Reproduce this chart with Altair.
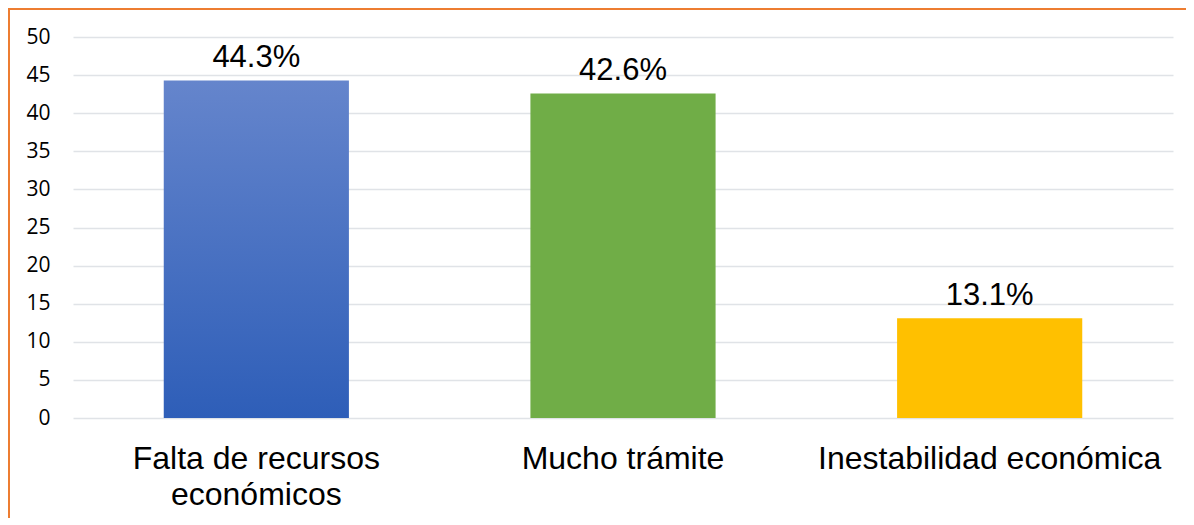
import altair as alt
import pandas as pd

categories = ["Falta de recursos económicos", "Mucho trámite", "Inestabilidad económica"]
values = [44.3, 42.6, 13.1]
colors = ["#4472C4", "#70AD47", "#FFC000"]
y_ticks = [0, 5, 10, 15, 20, 25, 30, 35, 40, 45, 50]

df = pd.DataFrame({"cat": categories, "val": values, "color": colors})
df["label"] = [f"{v:.1f}%" for v in values]

x_enc = alt.X(
    "cat:N",
    sort=categories,
    title=None,
    scale=alt.Scale(paddingInner=0.495, paddingOuter=0.2475),
    axis=alt.Axis(
        labelAngle=0,
        labelFont="Liberation Sans",
        labelFontSize=32,
        labelColor="#000000",
        labelPadding=25,
        labelLineHeight=36,
        labelLimit=500,
        ticks=False,
        tickSize=0,
        domain=False,
        grid=False,
        labelExpr="datum.value == 'Falta de recursos económicos' ? ['Falta de recursos', 'económicos'] : datum.label",
    ),
)
y_enc = alt.Y(
    "val:Q",
    title=None,
    scale=alt.Scale(domain=[0, 50], nice=False),
    axis=alt.Axis(
        values=y_ticks,
        labelFont="Open Sans",
        labelFontSize=21,
        labelColor="#000000",
        labelPadding=23,
        labelOverlap=False,
        ticks=False,
        tickSize=0,
        domain=False,
        grid=True,
        gridColor="#E0E3E7",
        gridWidth=1.6,
    ),
)

base = alt.Chart(df)

blue = base.transform_filter(alt.datum.cat == categories[0]).mark_bar(
    color=alt.Gradient(
        gradient="linear",
        stops=[alt.GradientStop(color="#6585CC", offset=0), alt.GradientStop(color="#2E5EB8", offset=1)],
        x1=0, x2=0, y1=0, y2=1,
    )
).encode(x=x_enc, y=y_enc)

others = base.transform_filter(alt.datum.cat != categories[0]).mark_bar().encode(
    x=x_enc, y=y_enc, color=alt.Color("color:N", scale=None)
)

labels = base.mark_text(
    font="Liberation Sans", fontSize=31, color="#000000", baseline="alphabetic", dy=-13
).encode(x=x_enc, y=y_enc, text="label:N")

border_top = base.mark_rule(color="#ED7D31", strokeWidth=2).encode(
    x=alt.value(-65), x2=alt.value(1200), y=alt.value(-28)
)
border_left = base.mark_rule(color="#ED7D31", strokeWidth=2).encode(
    x=alt.value(-64), y=alt.value(-29), y2=alt.value(600)
)

chart = alt.layer(blue, others, labels, border_top, border_left).properties(
    width=1100,
    height=381,
    autosize=alt.AutoSizeParams(type="none"),
    padding={"left": 65, "top": 29, "right": 13, "bottom": 100},
    background="#FFFFFF",
).configure_view(stroke=None)

chart.save("out.html", embed_options={"renderer": "svg", "actions": False})
